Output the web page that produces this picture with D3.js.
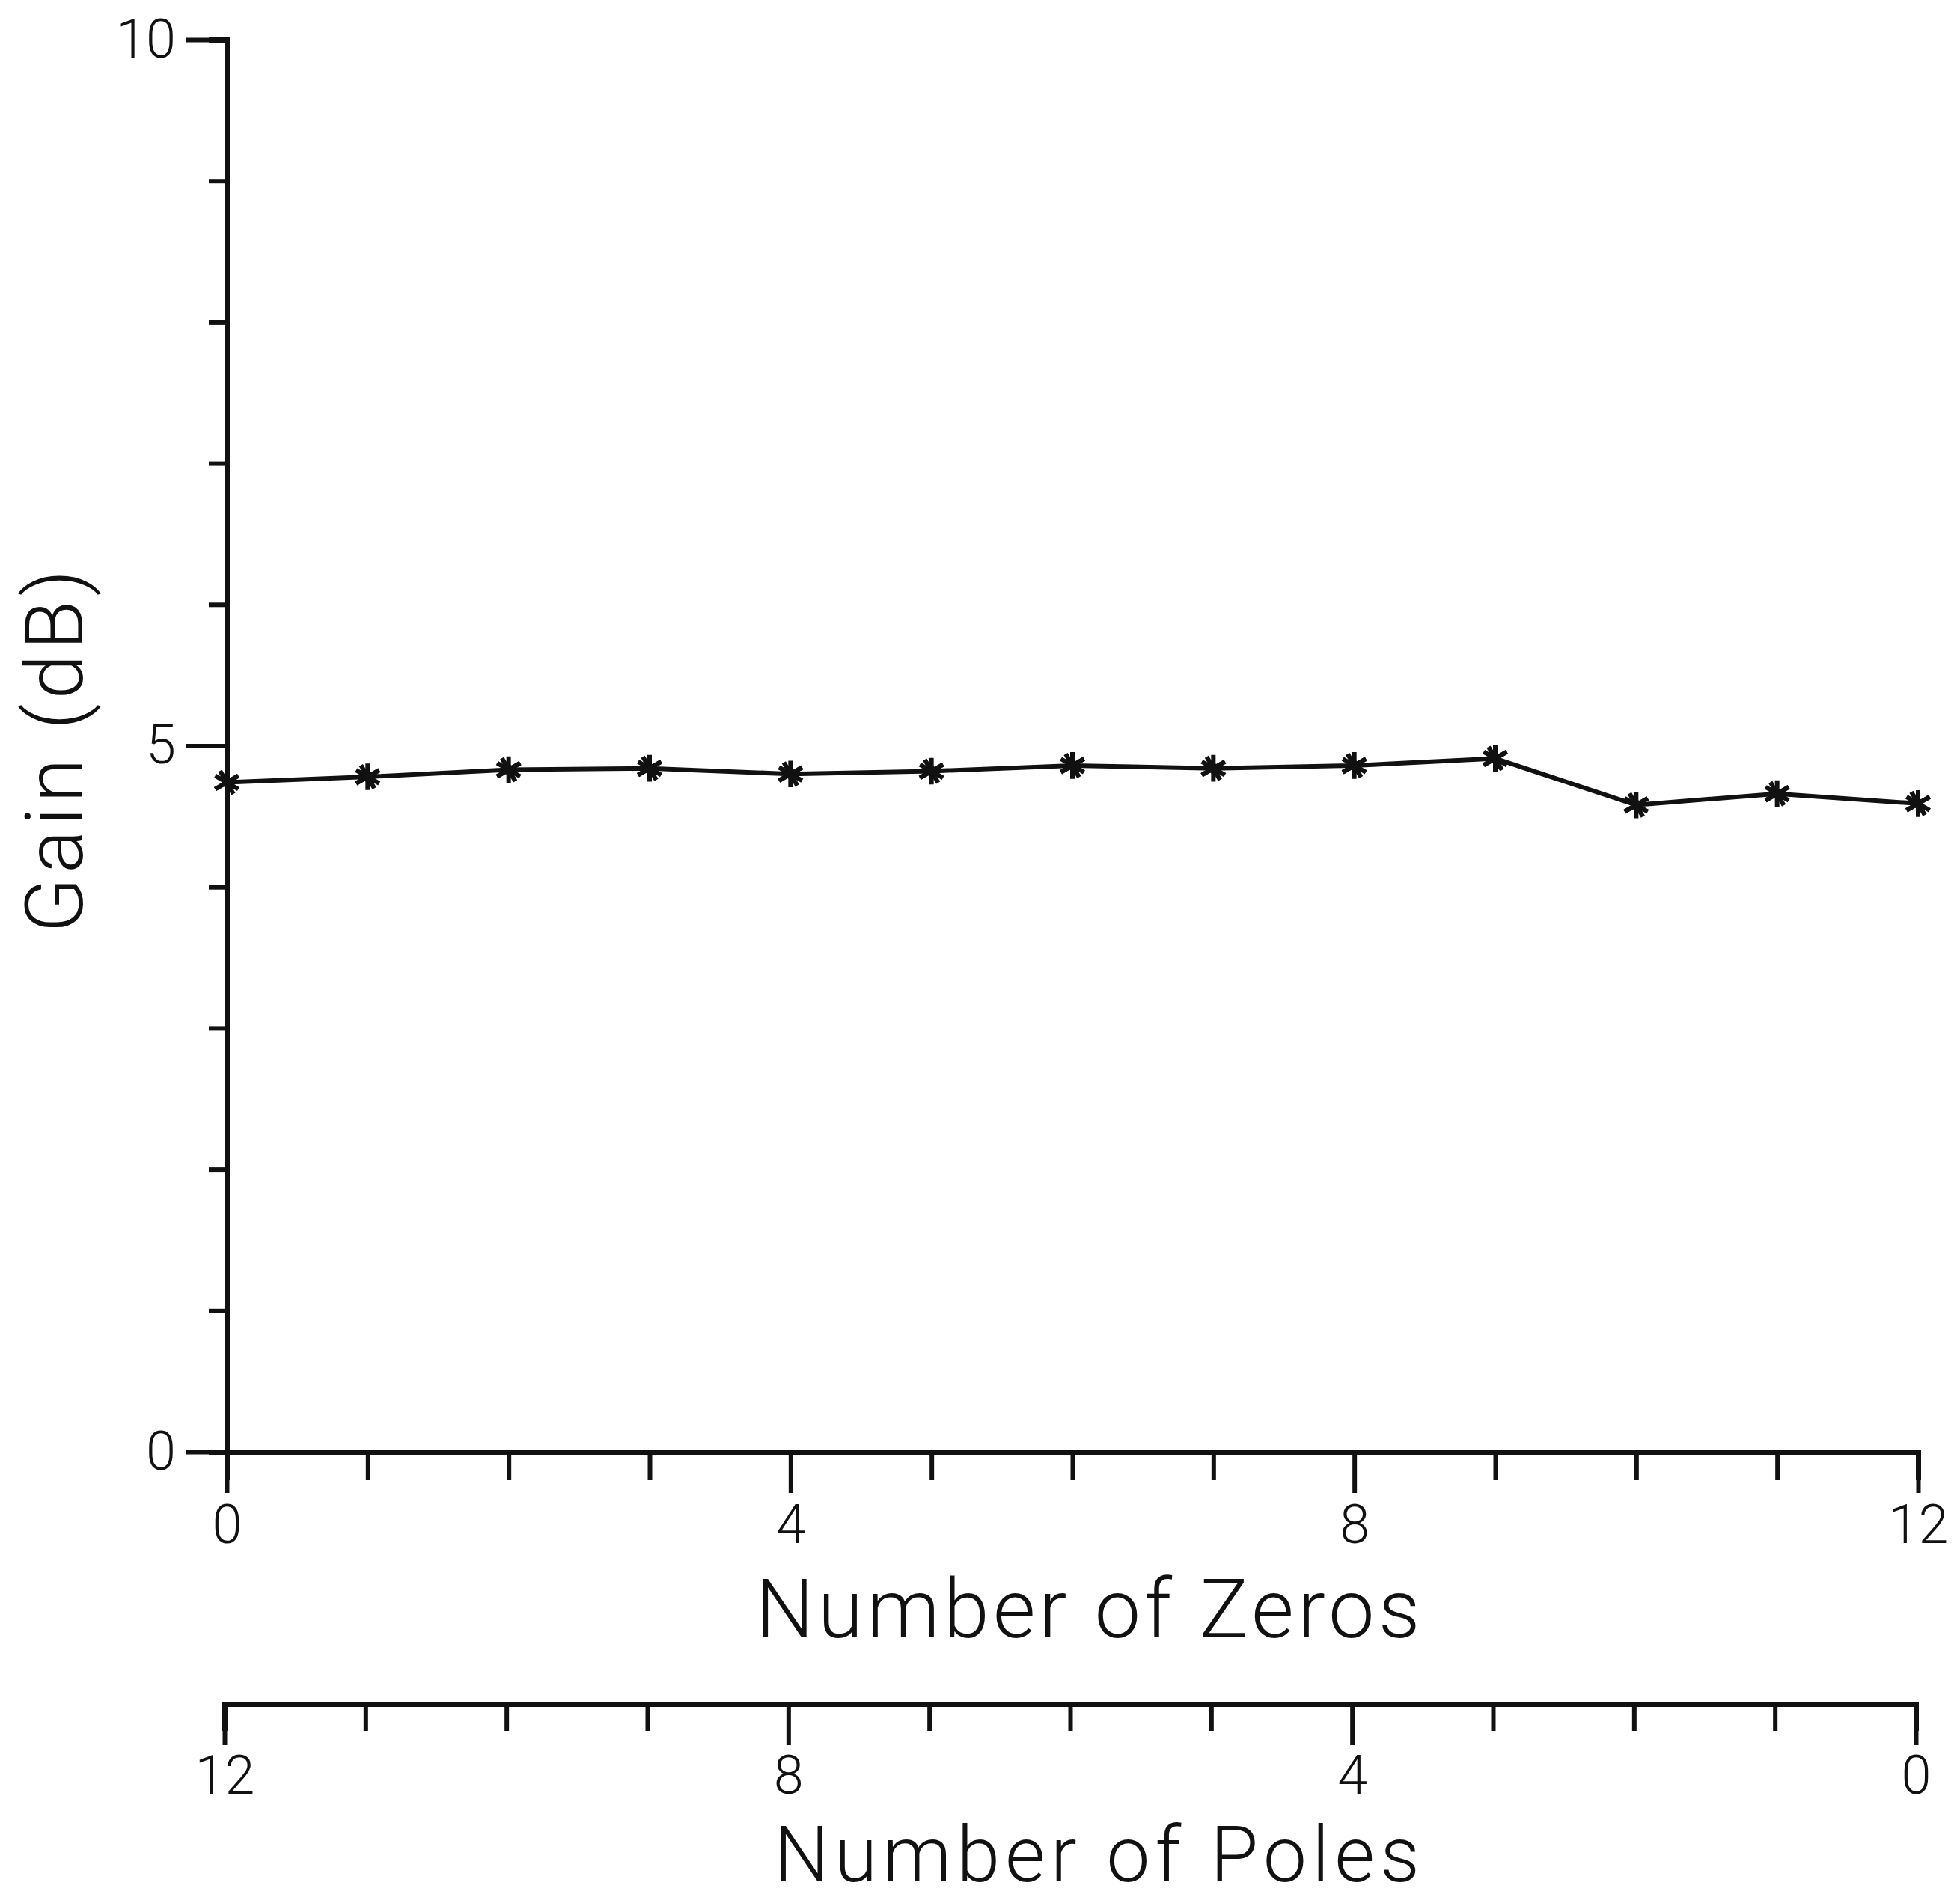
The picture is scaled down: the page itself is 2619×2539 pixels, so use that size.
<!DOCTYPE html>
<html>
<head>
<meta charset="utf-8">
<script src="https://cdn.jsdelivr.net/npm/d3@7"></script>
<style>
  body { margin: 0; background: #fff; }
  svg { display: block; }
</style>
</head>
<body>
<script>
const zeros = [0, 1, 2, 3, 4, 5, 6, 7, 8, 9, 10, 11, 12];
const gain = [4.74, 4.78, 4.83, 4.84, 4.8, 4.82, 4.86, 4.84, 4.86, 4.91, 4.58, 4.66, 4.59];
const gainTicks = [0, 1, 2, 3, 4, 5, 6, 7, 8, 9, 10];
const gainLabels = [0, 5, 10];
const zeroTicks = [0, 1, 2, 3, 4, 5, 6, 7, 8, 9, 10, 11, 12];
const zeroLabels = [0, 4, 8, 12];
const poleTicks = [12, 11, 10, 9, 8, 7, 6, 5, 4, 3, 2, 1, 0];
const poleLabels = [12, 8, 4, 0];

const width = 2619;
const height = 2539;
const font = "Roboto, 'Liberation Sans', sans-serif";
const ink = "#111";

const xScale = d3.scaleLinear().domain([0, 12]).range([303, 2563]);
const yScale = d3.scaleLinear().domain([0, 10]).range([1940, 53]);
const poleScale = d3.scaleLinear().domain([12, 0]).range([300, 2560]);
const poleY = 2277;

const svg = d3
  .select("body")
  .append("svg")
  .attr("width", width)
  .attr("height", height)
  .attr("viewBox", `0 0 ${width} ${height}`);

svg.append("rect").attr("width", width).attr("height", height).attr("fill", "#fff");

const styleAxis = (g) => {
  g.select(".domain").attr("stroke", ink).attr("stroke-width", 7);
  g.selectAll(".tick line").attr("stroke", ink).attr("stroke-width", 6);
  g.selectAll("text")
    .attr("fill", ink)
    .attr("font-family", font)
    .attr("font-weight", 300)
    .attr("font-size", 72);
};

const xAxis = d3
  .axisBottom(xScale)
  .tickValues(zeroTicks)
  .tickSizeOuter(0)
  .tickSize(38)
  .tickFormat((d) => (zeroLabels.includes(d) ? d : ""));

const xGroup = svg
  .append("g")
  .attr("transform", `translate(0 ${yScale(0)})`)
  .call(xAxis)
  .call(styleAxis);
xGroup
  .selectAll(".tick line")
  .attr("y2", (d) => (zeroLabels.includes(d) ? 55 : 38));
xGroup.selectAll(".tick text").attr("y", 122).attr("dy", 0);

const yAxis = d3
  .axisLeft(yScale)
  .tickValues(gainTicks)
  .tickSizeOuter(0)
  .tickSize(24)
  .tickFormat((d) => (gainLabels.includes(d) ? d : ""));

const yGroup = svg
  .append("g")
  .attr("transform", `translate(${xScale(0)} 0)`)
  .call(yAxis)
  .call(styleAxis);
yGroup
  .selectAll(".tick line")
  .attr("x2", (d) => (gainLabels.includes(d) ? -55 : -24));
yGroup.selectAll(".tick text").attr("x", -68);

const poleAxis = d3
  .axisBottom(poleScale)
  .tickValues(poleTicks)
  .tickSizeOuter(0)
  .tickSize(36)
  .tickFormat((d) => (poleLabels.includes(d) ? d : ""));

const poleGroup = svg
  .append("g")
  .attr("transform", `translate(0 ${poleY})`)
  .call(poleAxis)
  .call(styleAxis);
poleGroup
  .selectAll(".tick line")
  .attr("y2", (d) => (poleLabels.includes(d) ? 55 : 36));
poleGroup.selectAll(".tick text").attr("y", 120).attr("dy", 0);

const line = d3
  .line()
  .x((d, i) => xScale(zeros[i]))
  .y((d) => yScale(d));

svg
  .append("path")
  .datum(gain)
  .attr("fill", "none")
  .attr("stroke", ink)
  .attr("stroke-width", 6)
  .attr("d", line);

const star = d3.symbol().type(d3.symbolAsterisk).size(900);
const cross = d3.symbol().type(d3.symbolTimes).size(420);

const marks = svg
  .append("g")
  .selectAll("g")
  .data(gain)
  .enter()
  .append("g")
  .attr("transform", (d, i) => `translate(${xScale(zeros[i])} ${yScale(d)})`)
  .attr("stroke", ink)
  .attr("stroke-width", 6)
  .attr("fill", "none");

marks.append("path").attr("d", star);
marks.append("path").attr("d", cross).attr("transform", "rotate(15)");
marks.append("circle").attr("r", 7).attr("fill", ink).attr("stroke", "none");

const title = (text, x, y, size, spacing, rotate = 0) =>
  svg
    .append("text")
    .attr("transform", `translate(${x} ${y}) rotate(${rotate})`)
    .attr("text-anchor", "middle")
    .attr("fill", ink)
    .attr("font-family", font)
    .attr("font-weight", 300)
    .attr("font-size", size)
    .attr("letter-spacing", spacing)
    .text(text);

title("Number of Zeros", 1456, 2188, 110, 5);
title("Number of Poles", 1469, 2514, 104, 7);
title("Gain  (dB)", 110, 1001, 108, 6, -90);
</script>
</body>
</html>
